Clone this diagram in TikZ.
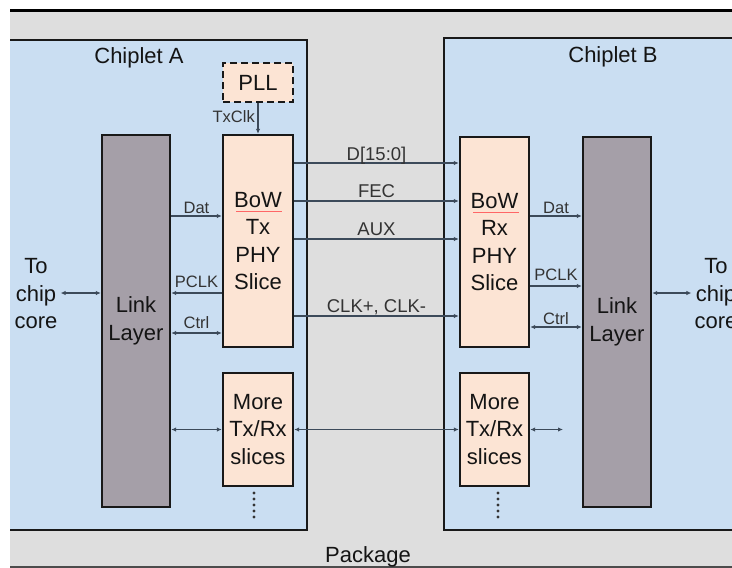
\documentclass[tikz,border=0pt]{standalone}
\usepackage{fontspec}
\setmainfont{Liberation Sans}
\usetikzlibrary{arrows.meta}
\definecolor{pkgbg}{HTML}{DEDEDE}
\definecolor{chipbg}{HTML}{CADEF2}
\definecolor{peach}{HTML}{FCE4D4}
\definecolor{linkgray}{HTML}{A59FA8}
\definecolor{wire}{HTML}{3C4A5A}
\definecolor{lblcol}{HTML}{333333}
\newcommand\bigtxt{\fontsize{22}{27.5}\selectfont}
\newcommand\bustxt{\fontsize{18.5}{22}\selectfont}
\newcommand\smalltxt{\fontsize{16.5}{20}\selectfont}
\begin{document}
\begin{tikzpicture}[x=1pt,y=-1pt,
  blockbox/.style={draw=black!90, line width=2.4pt, inner sep=0pt, align=center, font=\bigtxt, text=black!92},
  phybox/.style={blockbox, fill=peach},
  linkbox/.style={blockbox, fill=linkgray},
  plltag/.style={draw=black!90, line width=2.6pt, dash pattern=on 7pt off 4pt, fill=peach, inner sep=0pt, font=\bigtxt, text=black!92},
  conn/.style={draw=wire, line width=1.4pt, -{Latex[length=5pt,width=4.5pt]}},
  bidir/.style={conn, {Latex[length=5pt,width=4.5pt]}-{Latex[length=5pt,width=4.5pt]}},
  buslbl/.style={anchor=base, font=\bustxt, text=lblcol, inner sep=0pt},
  smlbl/.style={anchor=base, font=\smalltxt, text=lblcol, inner sep=0pt},
  plaintxt/.style={font=\bigtxt, text=black!92, align=center, inner sep=3pt}]
\useasboundingbox (0,0) rectangle (732,568);
% package
\fill[pkgbg] (10,10) rectangle (732,567);
\draw[line width=3pt, black] (10,10) -- (732,10);
\draw[line width=2pt, black!70] (10,567) -- (732,567);
\node[plaintxt, anchor=base] (pkg) at (368,562) {Package};
% chiplet A
\fill[chipbg] (10,40) rectangle (307,530);
\draw[line width=2.4pt, black!90] (10,40) -- (307,40) -- (307,530) -- (10,530);
\node[plaintxt, anchor=base] (chipA) at (139,63) {Chiplet A};
% chiplet B
\fill[chipbg] (444,38) rectangle (740,530);
\draw[line width=2.4pt, black!90] (740,38) -- (444,38) -- (444,530) -- (740,530);
\node[plaintxt, anchor=base] (chipB) at (613,62) {Chiplet B};
% blocks A
\node[plltag, minimum width=70pt, minimum height=39pt] (pll) at (258,82.5) {PLL};
\node[linkbox, minimum width=68pt, minimum height=372pt] (linkA) at (136,321) {Link\\Layer};
\node[phybox, minimum width=70pt, minimum height=212pt] (tx) at (258,241) {BoW\\Tx\\PHY\\Slice};
\node[phybox, minimum width=70pt, minimum height=113pt] (moreA) at (258,429.5) {More\\Tx/Rx\\slices};
% blocks B
\node[phybox, minimum width=69pt, minimum height=210pt] (rx) at (494.5,242) {BoW\\Rx\\PHY\\Slice};
\node[phybox, minimum width=69pt, minimum height=113pt] (moreB) at (494.5,429.5) {More\\Tx/Rx\\slices};
\node[linkbox, minimum width=68pt, minimum height=370pt] (linkB) at (617,322) {Link\\Layer};
% spell-check underline
\draw[red!60, line width=0.6pt] (236,211) -- (282,211);
\draw[red!60, line width=0.6pt] (473,212) -- (519,212);
% side texts
\node[plaintxt] (toA) at (36,294) {To\\chip\\core};
\node[plaintxt] (toB) at (716,294) {To\\chip\\core};
% dots
\foreach \k in {0,...,4} {
  \fill[black!80] (254,493+6*\k) circle (1.7pt);
  \fill[black!80] (498,493+6*\k) circle (1.7pt);
}
% PLL clock
\draw[conn] (pll.south) -- (tx.north);
\node[smlbl, anchor=base east] (txclk) at (255,122) {TxClk};
% bus between PHYs
\draw[conn] (tx.east |- 0,163) -- node[buslbl, yshift=3pt] (lD) {D[15:0]} (rx.west |- 0,163);
\draw[conn] (tx.east |- 0,201) -- node[buslbl, yshift=4pt] (lF) {FEC} (rx.west |- 0,201);
\draw[conn] (tx.east |- 0,239) -- node[buslbl, yshift=4pt] (lX) {AUX} (rx.west |- 0,239);
\draw[conn] (tx.east |- 0,316) -- node[buslbl, yshift=4pt] (lC) {CLK+, CLK-} (rx.west |- 0,316);
\draw[bidir] (moreA.east) -- (moreB.west);
% chiplet A internal
\draw[conn] (linkA.east |- 0,216) -- node[smlbl, yshift=3pt] (ldA) {Dat} (tx.west |- 0,216);
\draw[conn] (tx.west |- 0,293) -- node[smlbl, yshift=6pt] (lpA) {PCLK} (linkA.east |- 0,293);
\draw[bidir] (linkA.east |- 0,333) -- node[smlbl, yshift=5pt] (lcA) {Ctrl} (tx.west |- 0,333);
\draw[bidir] (linkA.east |- moreA.west) -- (moreA.west);
\draw[bidir] (toA.east |- 0,293) -- (linkA.west |- 0,293);
% chiplet B internal
\draw[conn] (rx.east |- 0,216) -- node[smlbl, yshift=3pt] (ldB) {Dat} (linkB.west |- 0,216);
\draw[conn] (rx.east |- 0,286) -- node[smlbl, yshift=6pt] (lpB) {PCLK} (linkB.west |- 0,286);
\draw[bidir] (rx.east |- 0,327) -- node[smlbl, yshift=3pt] (lcB) {Ctrl} (linkB.west |- 0,327);
\coordinate (moreBend) at (563,429.5);
\draw[bidir] (moreB.east) -- (moreBend);
\draw[bidir] (linkB.east |- 0,293) -- (toB.west |- 0,293);
\end{tikzpicture}
\end{document}
